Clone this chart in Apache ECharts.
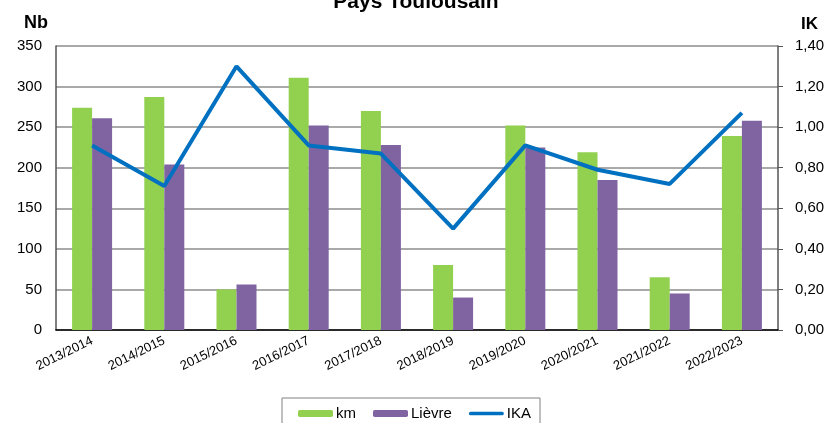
<!DOCTYPE html>
<html>
<head>
<meta charset="utf-8">
<script src="https://cdn.jsdelivr.net/npm/echarts@6/dist/echarts.min.js"></script>
<style>
	html, body { margin: 0; padding: 0; background: #fff; }
	#chart { width: 832px; height: 423px; }
</style>
</head>
<body>
<div id="chart"></div>
<script>
var seasons = ["2013/2014", "2014/2015", "2015/2016", "2016/2017", "2017/2018",
	"2018/2019", "2019/2020", "2020/2021", "2021/2022", "2022/2023"];
var km = [274, 287, 50, 311, 270, 80, 252, 219, 65, 239];
var lievre = [261, 204, 56, 252, 228, 40, 225, 185, 45, 258];
var ika = [0.91, 0.71, 1.30, 0.91, 0.87, 0.50, 0.91, 0.79, 0.72, 1.07];

var font = "Liberation Sans, Arial, sans-serif";
var chart = echarts.init(document.getElementById("chart"));

chart.setOption({
	animation: false,
	textStyle: { fontFamily: font },
	title: [
		{ text: "Pays Toulousain", left: "center", top: -13,
			textStyle: { fontSize: 21, fontWeight: "bold", color: "#000", fontFamily: font } },
		{ text: "Nb", left: 19, top: 9,
			textStyle: { fontSize: 18, fontWeight: "bold", color: "#000", fontFamily: font } },
		{ text: "IK", left: 796, top: 11,
			textStyle: { fontSize: 17, fontWeight: "bold", color: "#000", fontFamily: font } }
	],
	grid: { left: 56, right: 54, top: 46, bottom: 93 },
	legend: {
		top: 398,
		left: 282,
		data: ["km", "Lièvre", { name: "IKA", icon: "path://M2,0 L36,0 A2,2 0 0 1 36,4 L2,4 A2,2 0 0 1 2,0 Z" }],
		borderColor: "#808080",
		borderWidth: 1,
		padding: [8, 9, 10, 16],
		itemWidth: 35,
		itemHeight: 7,
		itemGap: 17,
		textStyle: { fontSize: 15, color: "#000", fontFamily: font, padding: [0, 0, 0, -2] }
	},
	xAxis: {
		type: "category",
		data: seasons,
		axisLine: { lineStyle: { color: "#000", width: 1.5 } },
		axisTick: { show: false },
		axisLabel: { rotate: 26, fontSize: 13, color: "#000", margin: 10, interval: 0 }
	},
	yAxis: [
		{
			type: "value", min: 0, max: 350, interval: 50,
			axisLine: { show: true, lineStyle: { color: "#555", width: 1.5 } },
			axisTick: { show: false },
			splitLine: { lineStyle: { color: "#8c8c8c", width: 1.5 } },
			axisLabel: { fontSize: 15, color: "#000", margin: 14 }
		},
		{
			type: "value", min: 0, max: 1.4, interval: 0.2,
			axisLine: { show: true, lineStyle: { color: "#555", width: 1.5 } },
			axisTick: { show: true, length: 5, lineStyle: { color: "#555" } },
			splitLine: { show: false },
			axisLabel: {
				fontSize: 15, color: "#000", margin: 17,
				formatter: function (v) { return v.toFixed(2).replace(".", ","); }
			}
		}
	],
	series: [
		{ name: "km", type: "bar", data: km, barWidth: 20, barGap: "0%",
			itemStyle: { color: "#92d050" } },
		{ name: "Lièvre", type: "bar", data: lievre, barWidth: 20, barGap: "0%",
			itemStyle: { color: "#8064a2" } },
		{ name: "IKA", type: "line", yAxisIndex: 1, data: ika,
			symbol: "none", lineStyle: { color: "#0070c0", width: 4 },
			itemStyle: { color: "#0070c0" } }
	]
});
</script>
</body>
</html>
